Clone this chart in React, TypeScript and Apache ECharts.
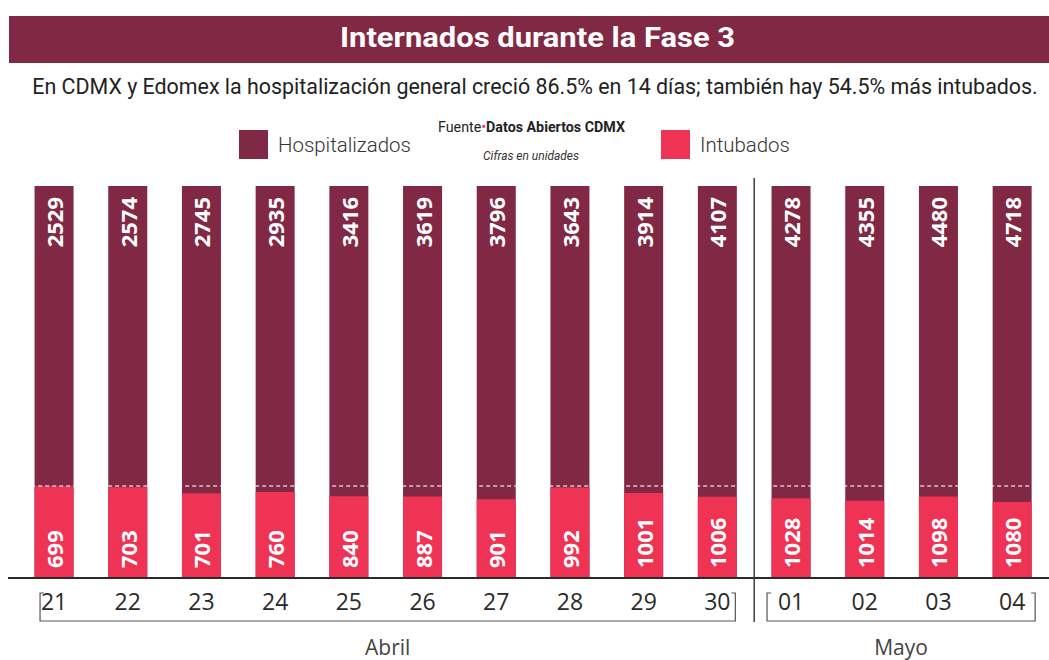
import React, { useEffect, useRef } from "react";
import * as echarts from "echarts";

const SANS = "Roboto, 'Noto Sans', sans-serif";
const OPEN = "'Open Sans', 'Noto Sans', sans-serif";

const MAROON = "#812845";
const PINK = "#ef3355";

const titleText = "Internados durante la Fase 3";
const subtitleText =
  "En CDMX y Edomex la hospitalización general creció 86.5% en 14 días; también hay 54.5% más intubados.";
const sourceLabel = "Fuente";
const sourceName = "Datos Abiertos CDMX";
const unitsNote = "Cifras en unidades";

const days = ["21", "22", "23", "24", "25", "26", "27", "28", "29", "30", "01", "02", "03", "04"];
const hospitalizados = [2529, 2574, 2745, 2935, 3416, 3619, 3796, 3643, 3914, 4107, 4278, 4355, 4480, 4718];
const intubados = [699, 703, 701, 760, 840, 887, 901, 992, 1001, 1006, 1028, 1014, 1098, 1080];
const months = ["Abril", "Mayo"];
const monthFirstDay = [0, 10];
const monthLastDay = [9, 13];

function measure(text: string, font: string): number {
  const ctx = document.createElement("canvas").getContext("2d");
  if (!ctx) return text.length * 10;
  ctx.font = font;
  return ctx.measureText(text).width;
}

export default function App() {
  const ref = useRef<HTMLDivElement>(null);

  useEffect(() => {
    if (!ref.current) return;
    const chart = echarts.init(ref.current, null, { renderer: "svg" });
    // share of hospitalized patients who are intubated (%)
    const share = intubados.map((v, i) => (v / hospitalizados[i]) * 100);

    // legend font size chosen so "Hospitalizados" spans ~133px like the reference
    const legendFs = Math.min(23, (23 * 133) / measure("Hospitalizados", `300 23px Roboto`));

    const labelBase = {
      show: true,
      rotate: 90,
      verticalAlign: "middle",
      color: "#ffffff",
      fontFamily: OPEN,
      fontWeight: "bold",
      fontSize: 22,
    };

    const legendCommon = {
      top: 130,
      padding: 0,
      icon: "rect",
      itemWidth: 29,
      itemHeight: 29,
      selectedMode: false,
      textStyle: {
        fontFamily: SANS,
        fontWeight: 300,
        fontSize: legendFs,
        color: "#333",
        padding: [2, 0, 0, 5],
      },
    };

    chart.setOption({
      animation: false,
      grid: { left: 17.2, top: 186, width: 1039.2, height: 392 },
      legend: [
        { ...legendCommon, data: ["Hospitalizados"], left: 239 },
        { ...legendCommon, data: ["Intubados"], left: 661 },
      ],
      xAxis: {
        type: "category",
        data: days,
        axisLine: { show: false },
        axisTick: { show: false },
        axisLabel: { fontFamily: OPEN, fontSize: 23, color: "#2a2a2a", margin: 11 },
      },
      yAxis: [
        { type: "value", min: 0, max: 118, show: false, splitLine: { show: false } },
        { type: "value", min: 0, max: 100, show: false, splitLine: { show: false } },
      ],
      series: [
        {
          name: "Hospitalizados",
          type: "bar",
          yAxisIndex: 1,
          barWidth: 39,
          barGap: "-100%",
          itemStyle: { color: MAROON },
          data: hospitalizados.map((v) => ({ value: 100, raw: v })),
          label: {
            ...labelBase,
            position: "insideTop",
            distance: 11,
            align: "right",
            formatter: (p: any) => String(hospitalizados[p.dataIndex]),
          },
        },
        {
          name: "Intubados",
          type: "bar",
          yAxisIndex: 0,
          barWidth: 39,
          barGap: "-100%",
          itemStyle: { color: PINK },
          data: share,
          label: {
            ...labelBase,
            position: "insideBottom",
            distance: 10,
            align: "left",
            formatter: (p: any) => String(intubados[p.dataIndex]),
          },
          markLine: {
            silent: true,
            symbol: "none",
            label: { show: false },
            lineStyle: { color: "rgba(255,255,255,0.72)", type: [4, 3], width: 1.5 },
            data: [{ yAxis: share[0] }],
          },
        },
      ],
    });

    const cx = days.map((d) => chart.convertToPixel({ xAxisIndex: 0 }, d) as number);
    const dividerX = (cx[monthLastDay[0]] + cx[monthFirstDay[1]]) / 2;
    const bracketOffsets = [
      [-14, 18],
      [-24, 23],
    ];
    const yTop = 593;
    const yBot = 621;

    const titleFont = `bold 28px Roboto`;
    const titleScale = 395 / measure(titleText, titleFont);
    const subFont = `400 22.5px Roboto`;
    const subScale = 1006 / measure(subtitleText, subFont);
    const srcW =
      measure(sourceLabel, `400 14px Roboto`) +
      measure("•", `400 14px Roboto`) +
      measure(sourceName, `bold 14px Roboto`);
    const srcScale = 187 / srcW;
    const unitsScale = 96 / measure(unitsNote, `italic 13px Roboto`);

    const graphics: any[] = [
      { type: "rect", shape: { x: 9, y: 16, width: 1040, height: 47 }, style: { fill: MAROON }, silent: true },
      {
        type: "text",
        x: 537.5,
        y: 37.5,
        scaleX: titleScale,
        style: {
          text: titleText,
          x: 0,
          y: 0,
          align: "center",
          verticalAlign: "middle",
          fill: "#ffffff",
          fontFamily: SANS,
          fontWeight: "bold",
          fontSize: 28,
        },
      },
      {
        type: "text",
        x: 535,
        y: 86,
        scaleX: subScale,
        style: {
          text: subtitleText,
          x: 0,
          y: 0,
          align: "center",
          verticalAlign: "middle",
          fill: "#222",
          fontFamily: SANS,
          fontSize: 22.5,
        },
      },
      {
        type: "text",
        x: 531.5,
        y: 127,
        scaleX: srcScale,
        style: {
          text: `{a|${sourceLabel}}{d|•}{b|${sourceName}}`,
          x: 0,
          y: 0,
          align: "center",
          verticalAlign: "middle",
          rich: {
            a: { fontFamily: SANS, fontSize: 14, fill: "#222", color: "#222" },
            d: { fontFamily: SANS, fontSize: 14, fill: PINK, color: PINK },
            b: { fontFamily: SANS, fontSize: 14, fontWeight: "bold", fill: "#222", color: "#222" },
          },
        },
      },
      {
        type: "text",
        x: 531,
        y: 155,
        scaleX: unitsScale,
        style: {
          text: unitsNote,
          x: 0,
          y: 0,
          align: "center",
          verticalAlign: "middle",
          fill: "#333",
          fontFamily: SANS,
          fontStyle: "italic",
          fontSize: 13,
        },
      },
      {
        type: "line",
        shape: { x1: 8, y1: 578, x2: 1049, y2: 578 },
        style: { stroke: "#2b2b2b", lineWidth: 2.2 },
        z: 100,
      },
      {
        type: "line",
        shape: { x1: dividerX, y1: 178, x2: dividerX, y2: 622 },
        style: { stroke: "#333", lineWidth: 1.4 },
        z: 100,
      },
    ];

    months.forEach((m, i) => {
      const x1 = cx[monthFirstDay[i]] + bracketOffsets[i][0];
      const x2 = cx[monthLastDay[i]] + bracketOffsets[i][1];
      graphics.push({
        type: "polyline",
        shape: {
          points: [
            [x1 + 4, yTop],
            [x1, yTop],
            [x1, yBot],
            [x2, yBot],
            [x2, yTop],
            [x2 - 4, yTop],
          ],
        },
        style: { stroke: "#555", lineWidth: 1.2, fill: null },
        z: 100,
      });
      graphics.push({
        type: "text",
        style: {
          text: m,
          x: (x1 + x2) / 2,
          y: 647,
          align: "center",
          verticalAlign: "middle",
          fill: "#444",
          fontFamily: OPEN,
          fontSize: 21,
        },
      });
    });

    chart.setOption({ graphic: graphics });

    return () => chart.dispose();
  }, []);

  return (
    <div
      ref={ref}
      style={{ position: "absolute", left: 0, top: 0, width: 1049, height: 660, background: "#fff" }}
    />
  );
}
